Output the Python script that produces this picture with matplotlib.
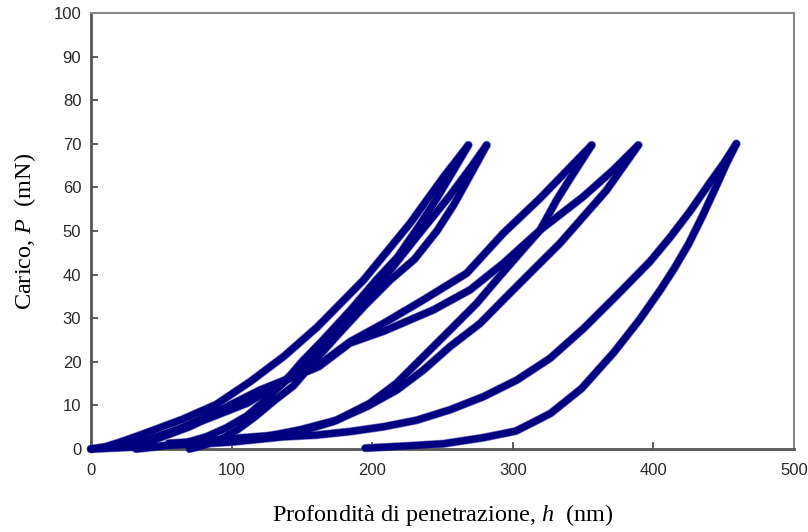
import matplotlib
matplotlib.use("Agg")
import matplotlib.pyplot as plt

plt.rcParams["mathtext.fontset"] = "custom"
plt.rcParams["mathtext.it"] = "Liberation Serif:italic"
plt.rcParams["mathtext.rm"] = "Liberation Serif"

# ---- data (h in nm, P in mN) ----
# group A (peaks ~268 and ~281 nm)
a1_load_h = [0, 10, 20, 35, 50, 65, 89, 113, 137, 161, 194, 227, 251, 268.4]
a1_load_p = [0, 0.5, 1.5, 3.2, 5, 6.8, 10.2, 15.4, 21.2, 28, 38.8, 51.8, 62.5, 69.7]
a1_unl_h = [268.4, 258, 245, 233, 218, 203, 185, 165, 150, 138, 125, 111, 96, 82, 68, 50, 32]
a1_unl_p = [69.7, 64, 57, 51, 44, 38.8, 32, 25, 20, 15.5, 11.5, 7.6, 4.8, 2.8, 1.5, 0.6, 0]
a2_load_h = [0, 20, 40, 60, 85, 111, 135, 158, 180, 203, 230, 255, 270, 281.4]
a2_load_p = [0, 0.7, 2.2, 4.2, 7.2, 10.5, 15, 21, 28, 37, 48, 58, 64.5, 69.7]
a2_unl_h = [281.4, 270, 258, 246, 230, 213, 195, 175, 158, 144, 130, 117, 104, 92, 80, 70]
a2_unl_p = [69.7, 63, 56, 50, 43.5, 38.8, 33, 26, 19.8, 14.5, 11, 7.5, 4.4, 2.2, 0.8, 0]

# group B (peaks ~356 and ~389 nm)
b1_load_h = [0, 20, 42, 66, 96.5, 120, 143.9, 160.5, 184.2, 208, 236.4, 267.2, 293.3, 319.4, 356.1]
b1_load_p = [0, 0.6, 2.1, 5.1, 9.7, 13.5, 16.6, 18.9, 24.6, 28.8, 34.2, 40.3, 49.5, 57.5, 69.7]
b1_unl_h = [356.1, 343.1, 331.2, 319.4, 302.8, 288.5, 274.3, 255.4, 236.4, 217.4, 198.4,
            174.7, 148.7, 125, 100, 75, 55]
b1_unl_p = [69.7, 63.2, 57.1, 50.2, 44.1, 38.8, 33.4, 27.3, 21.2, 15.1, 10.5,
            6.6, 4.4, 2.9, 2.2, 1.7, 1.3]
b2_load_h = [0, 22, 45, 70, 100, 122, 145, 162, 184.2, 208, 243.5, 269.6, 293.3, 319.4,
             350.2, 371.5, 389.3]
b2_load_p = [0, 0.6, 2.1, 5.1, 9.7, 13.5, 16.6, 18.9, 24.3, 27.0, 31.9, 36.5, 42.6, 50.2,
             57.9, 64, 69.7]
b2_unl_h = [389.3, 378.6, 366.8, 350.2, 333.6, 314.6, 295.7, 276.7, 255.4, 236.4, 217.4,
            196.1, 172.4, 148.7, 125, 100, 80]
b2_unl_p = [69.7, 64.8, 59.4, 53.3, 47.2, 41.1, 35, 28.8, 23.5, 18.1, 13.5,
            9.7, 6.3, 4.0, 3.0, 2.4, 2.0]

# group C (peak ~459 nm)
c_load_h = [0, 42, 70, 100, 136.8, 160.5, 184.2, 208, 231.6, 255.4, 279.1, 302.8, 326.5,
            350.2, 373.9, 397.6, 412, 426, 440, 450, 459]
c_load_p = [0, 0.6, 1.0, 1.6, 2.8, 3.2, 4.0, 5.1, 6.6, 9.0, 12.0, 15.8, 20.8,
            27.6, 35.2, 43.0, 48.6, 54.5, 61, 65.5, 70]
c_unl_h = [459, 452, 445, 435, 425, 415, 405, 390, 372, 349, 327, 315, 302, 279, 250.6,
           225, 195]
c_unl_p = [70, 65.5, 60.5, 53.5, 47, 41.5, 36.5, 29.6, 22.2, 13.9, 8.2, 6.2, 4.1, 2.6, 1.2,
           0.7, 0.2]

curves = [
    (a1_load_h, a1_load_p), (a1_unl_h, a1_unl_p),
    (a2_load_h, a2_load_p), (a2_unl_h, a2_unl_p),
    (b1_load_h, b1_load_p), (b1_unl_h, b1_unl_p),
    (b2_load_h, b2_load_p), (b2_unl_h, b2_unl_p),
    (c_load_h, c_load_p), (c_unl_h, c_unl_p),
]

x_ticks = [0, 100, 200, 300, 400, 500]
y_ticks = [0, 10, 20, 30, 40, 50, 60, 70, 80, 90, 100]

# ---- figure ----
fig = plt.figure(figsize=(8.08, 5.32), dpi=100)
ax = fig.add_axes([91 / 808, 1 - 449 / 532, 703 / 808, 436 / 532])

for h, p in curves:
    # soft halo, like the fuzzy edges of the dense markers
    ax.plot(h, p, color="#7878bc", lw=6.0, solid_capstyle="round",
            solid_joinstyle="round", clip_on=False, zorder=2)
for h, p in curves:
    ax.plot(h, p, color="#000080", lw=5.0, solid_capstyle="round",
            solid_joinstyle="round", clip_on=False, zorder=3)

ax.set_xlim(0, 500)
ax.set_ylim(0, 100)
ax.set_xticks(x_ticks)
ax.set_yticks(y_ticks)
ax.tick_params(direction="in", length=5, width=1.2, color="#404040",
               labelsize=12, labelcolor="#2a2a2a")
ax.tick_params(axis="x", pad=10)
ax.tick_params(axis="y", pad=7)
for lab in ax.get_xticklabels() + ax.get_yticklabels():
    lab.set_family("Liberation Sans")

ax.spines["left"].set_color("#555555")
ax.spines["left"].set_linewidth(2)
ax.spines["bottom"].set_color("#555555")
ax.spines["bottom"].set_linewidth(2)
ax.spines["top"].set_color("#888888")
ax.spines["top"].set_linewidth(1.5)
ax.spines["right"].set_color("#888888")
ax.spines["right"].set_linewidth(1.5)

ax.set_xlabel(r"Profondità di penetrazione, $h$  (nm)", fontsize=17.5,
              family="Liberation Serif", labelpad=17)
ax.set_ylabel(r"Carico, $P$  (mN)", fontsize=17.5,
              family="Liberation Serif", labelpad=11)

fig.savefig("out.png", dpi=100)
